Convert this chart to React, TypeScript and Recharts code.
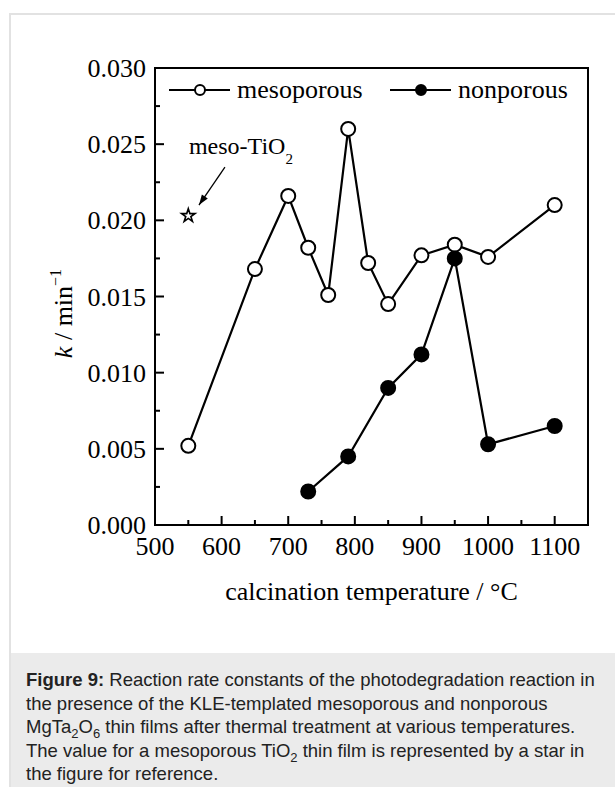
import {
  ComposedChart,
  Line,
  Scatter,
  XAxis,
  YAxis,
  ZAxis,
  ReferenceArea,
  ReferenceLine,
  Legend,
  Label,
} from 'recharts';

// calcination temperatures (°C) and rate constants k (min^-1)
const temperatures = [550, 650, 700, 730, 760, 790, 820, 850, 900, 950, 1000, 1100];
const mesoporous = [0.0052, 0.0168, 0.0216, 0.0182, 0.0151, 0.026, 0.0172, 0.0145, 0.0177, 0.0184, 0.0176, 0.021];
const nonporous = [null, null, null, 0.0022, null, 0.0045, null, 0.009, 0.0112, 0.0175, 0.0053, 0.0065];

// reference value for mesoporous TiO2 film
const mesoTiO2 = [{ temp: 550, k: 0.0203 }];
// arrow pointing at the star, in data units
const arrowFrom = { x: 605, y: 0.0235 };
const arrowTo = { x: 566, y: 0.021 };

const xTicks = [500, 550, 600, 650, 700, 750, 800, 850, 900, 950, 1000, 1050, 1100];
const yTicks = [0, 0.0025, 0.005, 0.0075, 0.01, 0.0125, 0.015, 0.0175, 0.02, 0.0225, 0.025, 0.0275, 0.03];

const chartData = temperatures.map((temp, i) => ({
  temp,
  meso: mesoporous[i],
  non: nonporous[i],
}));

const SERIF = '"Liberation Serif", "Times New Roman", serif';
const SANS = '"Liberation Sans", Arial, sans-serif';
const X_MARGIN = 10;
const Y_MARGIN = 10;

const renderXTick = (props: any) => {
  const { x, y, payload } = props;
  const major = payload.value % 100 === 0;
  const axisY = y - X_MARGIN;
  return (
    <g>
      <line x1={x} x2={x} y1={axisY} y2={axisY - (major ? 9 : 5)} stroke="#000" strokeWidth={2} />
      {major && (
        <text x={x} y={axisY + 30} textAnchor="middle" fontSize={26} fontFamily={SERIF} fill="#000">
          {payload.value}
        </text>
      )}
    </g>
  );
};

const renderYTick = (props: any) => {
  const { x, y, payload } = props;
  const major = Math.round(payload.value / 0.0025) % 2 === 0;
  const axisX = x + Y_MARGIN;
  return (
    <g>
      <line x1={axisX} x2={axisX + (major ? 9 : 5)} y1={y} y2={y} stroke="#000" strokeWidth={2} />
      {major && (
        <text x={axisX - 9} y={y + 9} textAnchor="end" fontSize={26} fontFamily={SERIF} fill="#000">
          {payload.value.toFixed(3)}
        </text>
      )}
    </g>
  );
};

const renderYTitle = (props: any) => {
  const { viewBox } = props;
  const cx = viewBox.x + 72;
  const cy = viewBox.y + viewBox.height / 2 + 17;
  return (
    <text
      x={cx}
      y={cy}
      transform={`rotate(-90 ${cx} ${cy})`}
      textAnchor="middle"
      fontSize={26}
      fontFamily={SERIF}
      fill="#000"
    >
      <tspan fontStyle="italic">k</tspan>
      <tspan> / min</tspan>
      <tspan dy={-11} fontSize={16}>−1</tspan>
    </text>
  );
};

// arrow with the "meso-TiO2" note above its tail
const renderArrow = (props: any) => {
  const { x1, y1, x2, y2 } = props;
  const ang = Math.atan2(y2 - y1, x2 - x1);
  const len = 11;
  const spread = 0.33;
  const p1 = [x2 - len * Math.cos(ang - spread), y2 - len * Math.sin(ang - spread)];
  const p2 = [x2 - len * Math.cos(ang + spread), y2 - len * Math.sin(ang + spread)];
  return (
    <g>
      <line x1={x1} y1={y1} x2={x2} y2={y2} stroke="#000" strokeWidth={1.3} />
      <polygon points={`${x2},${y2} ${p1[0]},${p1[1]} ${p2[0]},${p2[1]}`} fill="#000" />
      <text x={x1 - 36} y={y1 - 13} fontSize={24} fontFamily={SERIF} fill="#000">
        meso-TiO
        <tspan dy={10} fontSize={15}>2</tspan>
      </text>
    </g>
  );
};

const legendItems = [
  { name: 'mesoporous', fill: '#fff' },
  { name: 'nonporous', fill: '#000' },
];

const renderLegend = () => (
  <svg width={430} height={30}>
    {legendItems.map((item, i) => {
      const x0 = 9 + i * 221;
      return (
        <g key={item.name}>
          <line x1={x0} x2={x0 + 61} y1={15} y2={15} stroke="#000" strokeWidth={2.2} />
          <circle cx={x0 + 31} cy={15} r={5} fill={item.fill} stroke="#000" strokeWidth={2} />
          <text x={x0 + 68} y={23} fontSize={26} fontFamily={SERIF} fill="#000">
            {item.name}
          </text>
        </g>
      );
    })}
  </svg>
);

const subStyle = { fontSize: 13, lineHeight: 0 };

export default function App() {
  return (
    <div
      style={{
        position: 'absolute',
        left: 0,
        top: 0,
        width: 615,
        height: 787,
        overflow: 'hidden',
        background: '#fff',
      }}
    >
      <div
        style={{
          position: 'absolute',
          left: 9,
          top: 13,
          width: 640,
          height: 800,
          borderLeft: '2px solid #e2e2e2',
          borderTop: '2px solid #e2e2e2',
        }}
      />
      <div
        style={{
          position: 'absolute',
          left: 11,
          top: 653,
          width: 604,
          height: 134,
          background: '#ebebeb',
          boxSizing: 'border-box',
          padding: '15px 0 0 15px',
          fontFamily: SANS,
          fontSize: 18.5,
          lineHeight: '23.6px',
          color: '#222',
          whiteSpace: 'nowrap',
        }}
      >
        <div>
          <b>Figure 9:</b> Reaction rate constants of the photodegradation reaction in
        </div>
        <div>the presence of the KLE-templated mesoporous and nonporous</div>
        <div>
          MgTa<sub style={subStyle}>2</sub>O<sub style={subStyle}>6</sub> thin films after thermal treatment at various temperatures.
        </div>
        <div>
          The value for a mesoporous TiO<sub style={subStyle}>2</sub> thin film is represented by a star in
        </div>
        <div>the figure for reference.</div>
      </div>
      <div style={{ position: 'absolute', left: 0, top: 0 }}>
        <ComposedChart
          width={615}
          height={640}
          data={chartData}
          margin={{ top: 68, right: 27, left: 0, bottom: 25 }}
        >
          <XAxis
            dataKey="temp"
            type="number"
            domain={[500, 1150]}
            ticks={xTicks}
            interval={0}
            tickSize={0}
            tickMargin={X_MARGIN}
            tickLine={false}
            tick={renderXTick}
            axisLine={{ stroke: '#000', strokeWidth: 2 }}
            height={90}
            allowDataOverflow
          >
            <Label
              value="calcination temperature / °C"
              position="insideBottom"
              offset={15}
              fontSize={26}
              fontFamily={SERIF}
              fill="#000"
            />
          </XAxis>
          <YAxis
            type="number"
            domain={[0, 0.03]}
            ticks={yTicks}
            interval={0}
            tickSize={0}
            tickMargin={Y_MARGIN}
            tickLine={false}
            tick={renderYTick}
            axisLine={{ stroke: '#000', strokeWidth: 2 }}
            width={155}
            allowDataOverflow
          >
            <Label content={renderYTitle} />
          </YAxis>
          <ZAxis range={[56, 56]} />
          <ReferenceArea
            x1={500}
            x2={1150}
            y1={0}
            y2={0.03}
            fill="none"
            stroke="#000"
            strokeWidth={2}
            ifOverflow="visible"
          />
          <Legend
            layout="horizontal"
            verticalAlign="middle"
            align="center"
            content={renderLegend}
            wrapperStyle={{ left: 160, top: 75, width: 430, height: 30 }}
          />
          <Line
            dataKey="meso"
            name="mesoporous"
            stroke="#000"
            strokeWidth={2.2}
            dot={{ r: 7, fill: '#fff', stroke: '#000', strokeWidth: 2 }}
            activeDot={false}
            isAnimationActive={false}
          />
          <Line
            dataKey="non"
            name="nonporous"
            stroke="#000"
            strokeWidth={2.2}
            connectNulls
            dot={{ r: 7, fill: '#000', stroke: '#000', strokeWidth: 2 }}
            activeDot={false}
            isAnimationActive={false}
          />
          <Scatter
            data={mesoTiO2}
            dataKey="k"
            shape="star"
            fill="#fff"
            stroke="#000"
            strokeWidth={1.6}
            legendType="none"
            isAnimationActive={false}
          />
          <ReferenceLine
            segment={[arrowFrom, arrowTo]}
            shape={renderArrow}
            ifOverflow="visible"
          />
        </ComposedChart>
      </div>
    </div>
  );
}
